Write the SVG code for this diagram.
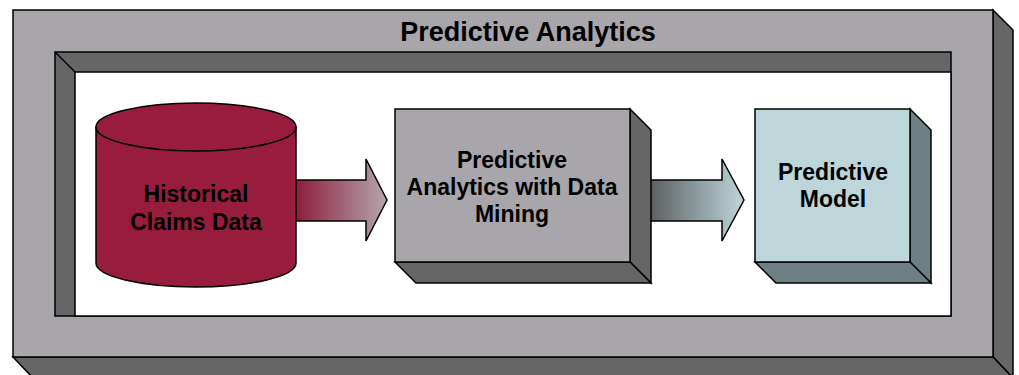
<svg xmlns="http://www.w3.org/2000/svg" width="1019" height="375" viewBox="0 0 1019 375">
<defs>
<style>
.ln{stroke:#000;stroke-width:1.5;stroke-linejoin:miter}
.face{fill:#a8a6aa}
.dark{fill:#666666}
.t{font-family:"Liberation Sans",Arial,sans-serif;font-weight:bold;fill:#000;text-anchor:middle}
</style>
<linearGradient id="g1" x1="0" y1="0" x2="1" y2="0">
<stop offset="0" stop-color="#8e1a3b"/>
<stop offset="1" stop-color="#b3a7ae"/>
</linearGradient>
<linearGradient id="g2" x1="0" y1="0" x2="1" y2="0">
<stop offset="0" stop-color="#5b5d5f"/>
<stop offset="1" stop-color="#bdd6da"/>
</linearGradient>
</defs>
<g id="frame">
<polygon class="dark ln" points="993,10 1013,30 1013,378 993,357"/>
<polygon class="dark ln" points="13,357 993,357 1013,378 33,378"/>
<rect class="face ln" x="13" y="10" width="980" height="347"/>
<rect class="dark ln" x="55" y="52" width="896" height="264"/>
<rect x="75" y="72" width="876" height="244" fill="#ffffff" stroke="#000" stroke-width="1.5"/>
<line class="ln" x1="55" y1="52" x2="75" y2="72"/>
<text class="t" x="528" y="41" font-size="27">Predictive Analytics</text>
</g>
<g id="connectors">
<polygon class="ln" fill="url(#g1)" points="294,180 366,180 366,159 387,200 366,241 366,221 294,221"/>
<polygon class="ln" fill="url(#g2)" points="648,180 722,180 722,159 744,200 722,241 722,221 648,221"/>
</g>
<g id="historical">
<path d="M96,127 L96,263 A100,24 0 0 0 296,263 L296,127 Z" fill="#971c3e" class="ln"/>
<ellipse cx="196" cy="127" rx="100" ry="24" fill="#971c3e" class="ln"/>
<text class="t" x="196" y="202" font-size="23">Historical</text>
<text class="t" x="196" y="230" font-size="23">Claims Data</text>
</g>
<g id="mining">
<polygon class="dark ln" points="630,109 651,130 651,283 630,262"/>
<polygon class="dark ln" points="395,262 630,262 651,283 416,283"/>
<rect class="face ln" x="395" y="109" width="235" height="153"/>
<text class="t" x="512" y="168" font-size="23">Predictive</text>
<text class="t" x="512" y="195" font-size="23">Analytics with Data</text>
<text class="t" x="512" y="222" font-size="23">Mining</text>
</g>
<g id="model">
<polygon fill="#6e8084" class="ln" points="910,109 931,130 931,283 910,262"/>
<polygon fill="#6e8084" class="ln" points="755,262 910,262 931,283 776,283"/>
<rect fill="#bdd6da" class="ln" x="755" y="109" width="155" height="153"/>
<text class="t" x="833" y="180" font-size="23">Predictive</text>
<text class="t" x="833" y="207" font-size="23">Model</text>
</g>
</svg>
